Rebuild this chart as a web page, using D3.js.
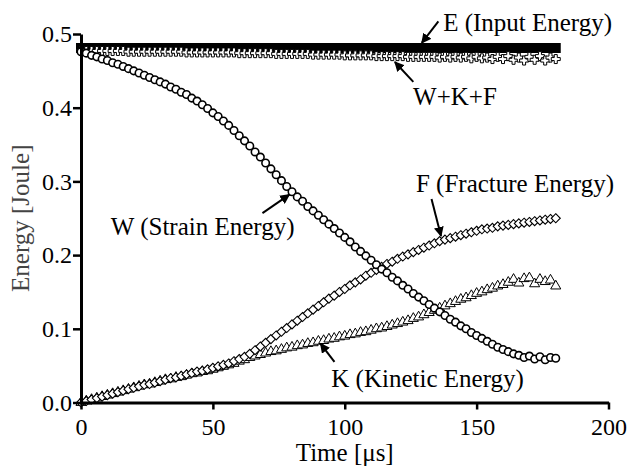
<!DOCTYPE html>
<html>
<head>
<meta charset="utf-8">
<script src="https://cdn.jsdelivr.net/npm/d3@7"></script>
<style>
  html, body { margin: 0; padding: 0; background: #fff; }
  #chart text { font-family: "Liberation Serif" !important; }
</style>
</head>
<body>
<svg id="chart" width="629" height="467" style="display:block"></svg>
<script>
// time samples [us]
const time = [0,2,4,6,8,10,12,14,16,18,20,22,24,26,28,30,32,34,36,38,40,42,44,46,48,50,52,54,56,58,
  60,62,64,66,68,70,72,74,76,78,80,82,84,86,88,90,92,94,96,98,100,102,104,106,108,110,112,114,116,118,
  120,122,124,126,128,130,132,134,136,138,140,142,144,146,148,150,152,154,156,158,160,162,164,166,168,170,172,174,176,178,180];

// E (input energy)
const inputEnergy = [0.481,0.481,0.481,0.481,0.481,0.481,0.481,0.481,0.481,0.481,0.481,0.481,0.481,0.481,0.481,
  0.481,0.481,0.481,0.481,0.481,0.481,0.481,0.481,0.481,0.481,0.481,0.481,0.481,0.481,0.481,
  0.481,0.481,0.481,0.481,0.481,0.481,0.481,0.481,0.481,0.481,0.481,0.481,0.481,0.481,0.481,
  0.481,0.481,0.481,0.481,0.481,0.481,0.481,0.481,0.481,0.481,0.481,0.481,0.481,0.481,0.481,
  0.481,0.481,0.481,0.481,0.481,0.481,0.481,0.481,0.481,0.481,0.481,0.481,0.481,0.481,0.481,
  0.481,0.481,0.481,0.481,0.481,0.481,0.481,0.481,0.481,0.481,0.481,0.481,0.481,0.481,0.481,0.481];

// W+K+F
const sumEnergy = [0.477,0.477,0.477,0.477,0.477,0.477,0.477,0.477,0.477,0.476,0.476,0.476,0.476,0.476,0.476,
  0.476,0.476,0.476,0.476,0.476,0.475,0.475,0.475,0.475,0.475,0.475,0.475,0.475,0.475,0.475,
  0.474,0.474,0.474,0.474,0.474,0.474,0.474,0.473,0.473,0.473,0.473,0.473,0.473,0.473,0.472,
  0.472,0.472,0.472,0.472,0.472,0.471,0.471,0.471,0.471,0.471,0.471,0.470,0.470,0.470,0.470,
  0.470,0.470,0.469,0.469,0.469,0.469,0.469,0.469,0.468,0.469,0.468,0.469,0.468,0.469,0.467,
  0.469,0.467,0.468,0.466,0.469,0.466,0.470,0.465,0.468,0.464,0.469,0.465,0.470,0.464,0.468,0.466];

// W (strain energy)
const strainEnergy = [0.476,0.474,0.471,0.469,0.466,0.464,0.461,0.459,0.456,0.453,0.450,0.447,0.444,0.441,0.438,
  0.435,0.432,0.428,0.425,0.421,0.418,0.413,0.409,0.404,0.399,0.393,0.388,0.382,0.376,0.369,
  0.362,0.355,0.348,0.340,0.333,0.325,0.317,0.309,0.301,0.293,0.286,0.279,0.273,0.266,0.260,
  0.254,0.248,0.242,0.236,0.230,0.224,0.218,0.211,0.205,0.199,0.193,0.187,0.181,0.176,0.170,
  0.165,0.159,0.154,0.148,0.143,0.138,0.133,0.128,0.123,0.118,0.113,0.109,0.104,0.100,0.095,
  0.091,0.087,0.083,0.079,0.075,0.072,0.069,0.066,0.064,0.061,0.063,0.059,0.062,0.058,0.061,0.060];

// F (fracture energy)
const fractureEnergy = [0.000,0.002,0.004,0.006,0.008,0.010,0.012,0.014,0.016,0.018,0.020,0.022,0.024,0.025,0.027,
  0.029,0.031,0.033,0.034,0.036,0.038,0.040,0.042,0.043,0.045,0.047,0.049,0.051,0.053,0.056,
  0.059,0.062,0.066,0.071,0.076,0.081,0.086,0.091,0.096,0.101,0.106,0.111,0.116,0.121,0.126,
  0.131,0.136,0.141,0.145,0.150,0.154,0.159,0.163,0.167,0.172,0.176,0.180,0.184,0.188,0.191,
  0.195,0.198,0.201,0.204,0.207,0.210,0.213,0.216,0.219,0.221,0.223,0.225,0.227,0.229,0.231,
  0.233,0.235,0.236,0.237,0.239,0.240,0.241,0.242,0.243,0.244,0.245,0.246,0.247,0.248,0.249,0.250];

// K (kinetic energy)
const kineticEnergy = [0.000,0.002,0.004,0.006,0.008,0.010,0.012,0.014,0.016,0.018,0.020,0.022,0.024,0.025,0.027,
  0.029,0.031,0.032,0.034,0.035,0.037,0.039,0.040,0.042,0.043,0.045,0.047,0.049,0.051,0.053,
  0.056,0.058,0.061,0.063,0.065,0.067,0.069,0.070,0.072,0.074,0.075,0.077,0.078,0.080,0.081,
  0.083,0.084,0.086,0.087,0.089,0.090,0.092,0.093,0.095,0.096,0.098,0.100,0.101,0.103,0.105,
  0.107,0.109,0.111,0.114,0.116,0.119,0.122,0.125,0.128,0.131,0.134,0.137,0.140,0.142,0.145,
  0.148,0.150,0.153,0.155,0.158,0.160,0.163,0.167,0.162,0.168,0.169,0.161,0.167,0.164,0.166,0.158];

const xTicks = [0, 50, 100, 150, 200];
const yTicks = [0, 0.1, 0.2, 0.3, 0.4, 0.5];

// annotation text and arrows, in data units
const labels = ["E (Input Energy)", "W+K+F", "W (Strain Energy)", "F (Fracture Energy)", "K (Kinetic Energy)"];
const labelAt = [[137.3, 0.504], [125.9, 0.404], [11.3, 0.227], [127.0, 0.286], [94.9, 0.021]];
const arrowFrom = [[135.5, 0.517], [126.0, 0.435], [68.8, 0.257], [132.9, 0.276], [96.1, 0.055]];
const arrowTo = [[129.2, 0.488], [119.0, 0.462], [79.0, 0.282], [136.5, 0.226], [90.8, 0.080]];

function drawChart() {
    const svg = d3.select("#chart");
    const margin = {top: 34, right: 20.5, bottom: 64.5, left: 81};
    const width = 629 - margin.left - margin.right;
    const height = 467 - margin.top - margin.bottom;

    svg.append("rect").attr("width", 629).attr("height", 467).attr("fill", "#fff");

    const chart = svg.append("g")
        .attr("transform", `translate(${margin.left},${margin.top})`);

    const x = d3.scaleLinear().domain([0, 200]).range([0, width]);
    const y = d3.scaleLinear().domain([0, 0.5]).range([height, 0]);

    // arrowhead
    svg.append("defs").append("marker")
        .attr("id", "head")
        .attr("viewBox", "0 0 10 10")
        .attr("refX", 9).attr("refY", 5)
        .attr("markerWidth", 5).attr("markerHeight", 5)
        .attr("markerUnits", "strokeWidth")
        .attr("orient", "auto")
        .append("path").attr("d", "M0,0L10,5L0,10z").attr("fill", "#000");

    // series: drawn in this order so overlaps look like the original
    const series = [
        {vals: inputEnergy, sym: d3.symbolSquare, size: 100, fill: "#000", sw: 0},
        {vals: sumEnergy, sym: d3.symbolCross, size: 45, fill: "#fff", sw: 1},
        {vals: kineticEnergy, sym: d3.symbolTriangle, size: 44, fill: "#fff", sw: 1},
        {vals: fractureEnergy, sym: d3.symbolDiamond2, size: 52, fill: "#fff", sw: 1.1},
        {vals: strainEnergy, sym: d3.symbolCircle, size: 44, fill: "#fff", sw: 1.6}
    ];

    series.forEach(s => {
        chart.append("g")
            .selectAll("path")
            .data(s.vals)
            .join("path")
            .attr("transform", (d, i) => `translate(${x(time[i])},${y(d)})`)
            .attr("d", d3.symbol().type(s.sym).size(s.size))
            .attr("fill", s.fill)
            .attr("stroke", "#000")
            .attr("stroke-width", s.sw);
    });

    // axes
    const yAxis = chart.append("g")
        .call(d3.axisLeft(y).tickValues(yTicks).tickFormat(d3.format(".1f"))
            .tickSize(8).tickSizeOuter(0).tickPadding(1));
    const xAxis = chart.append("g")
        .attr("transform", `translate(0,${height})`)
        .call(d3.axisBottom(x).tickValues(xTicks).tickFormat(d3.format("d"))
            .tickSize(7).tickSizeOuter(0).tickPadding(8));

    [yAxis, xAxis].forEach(a => {
        a.attr("font-size", null).attr("font-family", null);
        a.select(".domain").attr("stroke", "#000").attr("stroke-width", 3);
        a.selectAll(".tick line").attr("stroke", "#000").attr("stroke-width", 2.5);
        a.selectAll(".tick text")
            .attr("fill", "#000")
            .style("font-size", "24px");
    });

    // axis titles
    svg.append("text")
        .attr("x", margin.left + width / 2)
        .attr("y", 461)
        .attr("text-anchor", "middle")
        .style("font-size", "25px")
        .text("Time [μs]");

    svg.append("text")
        .attr("transform", `translate(29,${margin.top + height / 2}) rotate(-90)`)
        .attr("text-anchor", "middle")
        .attr("fill", "#444")
        .style("font-size", "25px")
        .text("Energy [Joule]");

    // annotations
    labels.forEach((t, i) => {
        chart.append("text")
            .attr("x", x(labelAt[i][0]))
            .attr("y", y(labelAt[i][1]))
            .style("font-size", "25px")
            .text(t);
        chart.append("line")
            .attr("x1", x(arrowFrom[i][0])).attr("y1", y(arrowFrom[i][1]))
            .attr("x2", x(arrowTo[i][0])).attr("y2", y(arrowTo[i][1]))
            .attr("stroke", "#000")
            .attr("stroke-width", 2)
            .attr("marker-end", "url(#head)");
    });
}

drawChart();
</script>
</body>
</html>
